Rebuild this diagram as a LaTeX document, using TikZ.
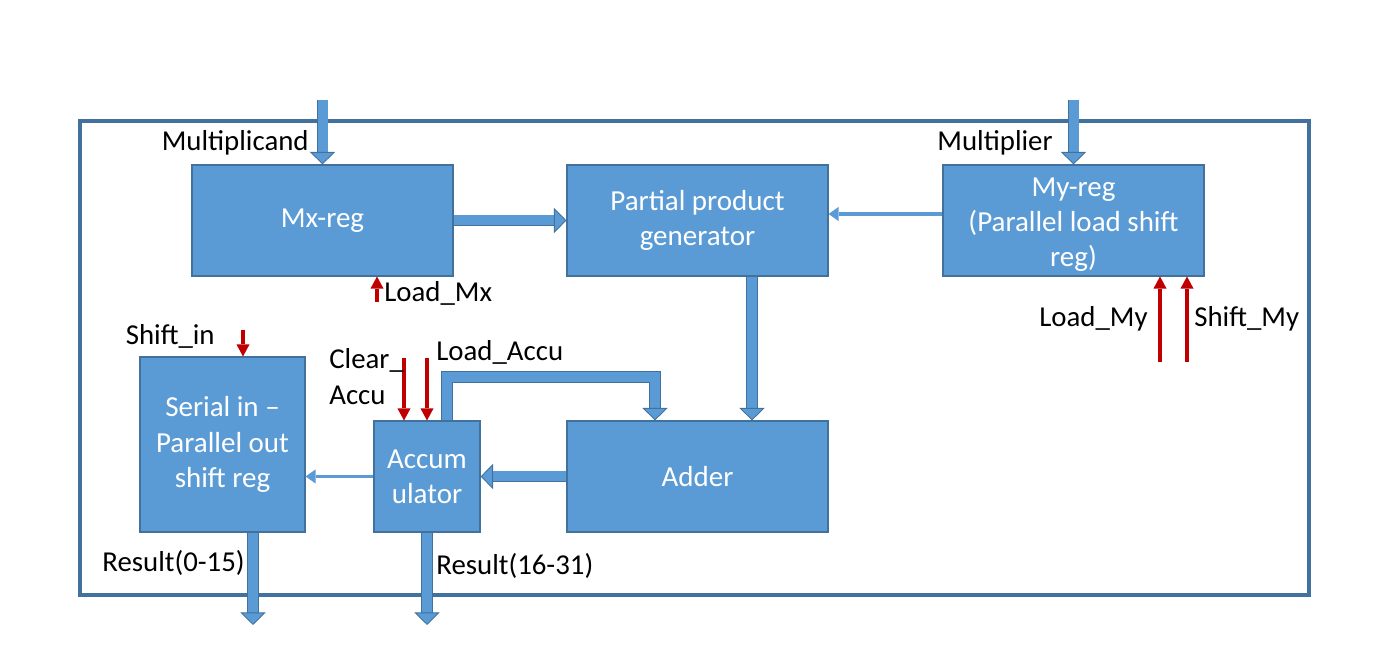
\documentclass[tikz,border=0pt]{standalone}
\usepackage{fontspec}
\setmainfont{Carlito}
\usetikzlibrary{arrows.meta}
\definecolor{blkfill}{HTML}{5B9BD5}
\definecolor{blkedge}{HTML}{41719C}
\definecolor{ctlred}{HTML}{C00000}
\tikzset{
  blk/.style={draw=blkedge, fill=blkfill, line width=0.6pt, text=white, align=center,
    font=\fontsize{16.5}{20}\selectfont, minimum width=5.22cm, minimum height=2.22cm, inner sep=0pt},
  lbl/.style={font=\fontsize{16.4}{20.4}\selectfont, inner sep=0pt, align=left},
  bus/.style={draw=blkedge, line width=0.5pt, double=blkfill, double distance=0.2cm,
    -{Triangle[length=0.25cm, width=0.5cm, line width=0.5pt, color=blkedge, fill=blkfill]}},
  wire/.style={draw=blkfill, line width=2pt, -{Triangle[length=0.2cm, width=0.28cm, line width=0pt]}},
  ctl/.style={draw=ctlred, line width=2.1pt, -{Triangle[length=0.24cm, width=0.26cm, line width=0pt]}}
}
\begin{document}
\begin{tikzpicture}
   \useasboundingbox (0,0) rectangle (27.68,13.2);
   \draw[blkedge, line width=2.2pt] (1.6,10.78) rectangle (26.18,1.3);
   % blocks
   \node[blk] (mx) at (6.45,8.79) {Mx-reg};
   \node[blk] (ppg) at (13.95,8.79) {Partial product\\generator};
   \node[blk] (my) at (21.47,8.79) {\rule{0pt}{15.5pt}My-reg\\(Parallel load shift\\reg)};
   \node[blk] (adder) at (13.95,3.67) {Adder};
   \node[blk, minimum width=2.12cm] (accu) at (8.54,3.67) {Accum\\ulator};
   \node[blk, minimum width=3.3cm, minimum height=3.5cm] (sipo) at (4.45,4.31) {Serial in --\\Parallel out\\shift reg};
   % free ends
   \coordinate (mcin) at (6.45,11.2);
   \coordinate (mpin) at (21.47,11.2);
   \coordinate (loout) at (5.06,0.7);
   \coordinate (hiout) at (8.54,0.7);
   \coordinate (fb) at (13.1,5.66);
   \coordinate (ldmx) at (7.54,7.16);
   \coordinate (ldmy) at (23.2,5.96);
   \coordinate (shmy) at (23.74,5.96);
   \coordinate (shin) at (4.86,6.6);
   \coordinate (clracc) at (8.08,6.04);
   \coordinate (ldacc) at (8.54,6.04);
   % data paths
   \draw[bus] (mcin) -- (mx.north);
   \draw[bus] (mpin) -- (my.north);
   \draw[bus] (mx.east) -- (ppg.west);
   \draw[wire] ([yshift=0.13cm]ppg.east -| my.west) -- ([yshift=0.13cm]ppg.east);
   \draw[bus] ([xshift=1.09cm]ppg.south) -- ([xshift=1.09cm]adder.north);
   \draw[bus] (adder.west) -- (accu.east);
   \draw[wire] (accu.west) -- (accu.west -| sipo.east);
   \draw[bus] ([xshift=0.4cm]accu.north) |- (fb) -- (fb |- adder.north);
   \draw[bus] (accu.south) -- (hiout);
   \draw[bus] (loout |- sipo.south) -- (loout);
   % control
   \draw[ctl] (ldmx) -- (ldmx |- mx.south);
   \draw[ctl] (ldmy) -- (ldmy |- my.south);
   \draw[ctl] (shmy) -- (shmy |- my.south);
   \draw[ctl] (shin) -- (shin |- sipo.north);
   \draw[ctl] (clracc) -- (clracc |- accu.north);
   \draw[ctl] (ldacc) -- (ldacc |- accu.north);
   % labels
   \node[lbl, anchor=east] (tmc) at (6.18,10.34) {Multiplicand};
   \node[lbl, anchor=east] (tmp) at (21.06,10.34) {Multiplier};
   \node[lbl, anchor=west] (tldmx) at (7.68,7.34) {Load\_Mx};
   \node[lbl, anchor=east] (tldmy) at (22.96,6.82) {Load\_My};
   \node[lbl, anchor=west] (tshmy) at (23.88,6.82) {Shift\_My};
   \node[lbl, anchor=east] (tshin) at (4.3,6.48) {Shift\_in};
   \node[lbl, anchor=west] (tclr) at (6.58,5.66) {Clear\_\\Accu};
   \node[lbl, anchor=west] (tldacc) at (8.72,6.16) {Load\_Accu};
   \node[lbl, anchor=east] (tlo) at (4.9,1.94) {Result(0-15)};
   \node[lbl, anchor=west] (thi) at (8.72,1.88) {Result(16-31)};
\end{tikzpicture}
\end{document}
